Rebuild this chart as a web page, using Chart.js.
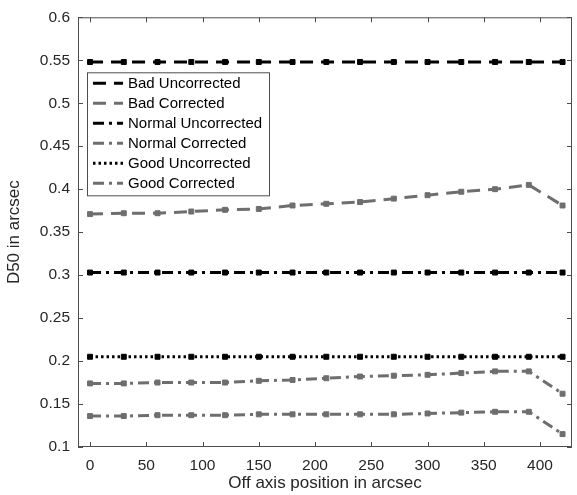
<!DOCTYPE html>
<html>
<head>
<meta charset="utf-8">
<script src="https://cdn.jsdelivr.net/npm/chart.js@4.4.1/dist/chart.umd.min.js"></script>
<style>
  html, body { margin: 0; padding: 0; background: #fff; }
  #wrap { width: 577px; height: 495px; }
</style>
</head>
<body>
<div id="wrap"><canvas id="chart"></canvas></div>
<script>
const positions = [0, 30, 60, 90, 120, 150, 180, 210, 240, 270, 300, 330, 360, 390, 420];
const xTicks = [0, 50, 100, 150, 200, 250, 300, 350, 400];
const yTicks = [0.1, 0.15, 0.2, 0.25, 0.3, 0.35, 0.4, 0.45, 0.5, 0.55, 0.6];

const badUncorrected = [0.548, 0.548, 0.548, 0.548, 0.548, 0.548, 0.548, 0.548, 0.548, 0.548, 0.548, 0.548, 0.548, 0.548, 0.548];
const badCorrected = [0.371, 0.372, 0.372, 0.374, 0.376, 0.377, 0.381, 0.383, 0.385, 0.389, 0.393, 0.397, 0.400, 0.405, 0.381];
const normalUncorrected = [0.303, 0.303, 0.303, 0.303, 0.303, 0.303, 0.303, 0.303, 0.303, 0.303, 0.303, 0.303, 0.303, 0.303, 0.303];
const normalCorrected = [0.174, 0.174, 0.175, 0.175, 0.175, 0.177, 0.178, 0.180, 0.182, 0.183, 0.184, 0.186, 0.188, 0.188, 0.162];
const goodUncorrected = [0.205, 0.205, 0.205, 0.205, 0.205, 0.205, 0.205, 0.205, 0.205, 0.205, 0.205, 0.205, 0.205, 0.205, 0.205];
const goodCorrected = [0.136, 0.136, 0.137, 0.137, 0.137, 0.138, 0.138, 0.138, 0.138, 0.138, 0.139, 0.140, 0.141, 0.141, 0.115];

const BLACK = '#000000';
const GREY = '#6e6e6e';
const DASH = [13, 8];
const DASHDOT = [11, 5, 3, 5];
const DOT = [2.5, 3];
const FONT = '"Liberation Sans", Arial, sans-serif';

const toPoints = (ys) => ys.map((y, i) => ({ x: positions[i], y }));

function series(label, ys, color, dash) {
  return {
    label,
    data: toPoints(ys),
    borderColor: color,
    backgroundColor: color,
    borderWidth: 3,
    borderDash: dash,
    pointStyle: 'rect',
    pointRadius: 3.5,
    pointBorderWidth: 1,
    pointHoverRadius: 3.5,
    tension: 0,
    fill: false
  };
}

// inward ticks on all four sides plus the axes box
const frameTicks = {
  id: 'frameTicks',
  afterDatasetsDraw(chart) {
    const { ctx, chartArea: a, scales } = chart;
    ctx.save();
    ctx.strokeStyle = '#4d4d4d';
    ctx.lineWidth = 1;
    ctx.setLineDash([]);
    ctx.strokeRect(a.left + 0.5, a.top + 0.5, a.right - a.left - 1, a.bottom - a.top - 1);
    ctx.beginPath();
    scales.x.ticks.forEach((t) => {
      const px = Math.round(scales.x.getPixelForValue(t.value)) + 0.5;
      ctx.moveTo(px, a.bottom); ctx.lineTo(px, a.bottom - 5);
      ctx.moveTo(px, a.top); ctx.lineTo(px, a.top + 5);
    });
    scales.y.ticks.forEach((t) => {
      const py = Math.round(scales.y.getPixelForValue(t.value)) + 0.5;
      ctx.moveTo(a.left, py); ctx.lineTo(a.left + 5, py);
      ctx.moveTo(a.right, py); ctx.lineTo(a.right - 5, py);
    });
    ctx.stroke();
    ctx.restore();
  }
};

// boxed legend in the upper left of the plot
const boxLegend = {
  id: 'boxLegend',
  afterDraw(chart) {
    const { ctx, chartArea: a } = chart;
    const left = a.left + 9, top = a.top + 55, w = 182, h = 123, row = 20;
    ctx.save();
    ctx.fillStyle = '#fff';
    ctx.fillRect(left, top, w, h);
    ctx.strokeStyle = '#4d4d4d';
    ctx.lineWidth = 1;
    ctx.setLineDash([]);
    ctx.strokeRect(left + 0.5, top + 0.5, w, h);
    ctx.font = '15px ' + FONT;
    ctx.textBaseline = 'middle';
    chart.data.datasets.forEach((ds, i) => {
      const y = top + 11 + i * row;
      ctx.strokeStyle = ds.borderColor;
      ctx.lineWidth = 3;
      ctx.setLineDash(ds.borderDash);
      ctx.beginPath();
      ctx.moveTo(left + 6, y);
      ctx.lineTo(left + 36, y);
      ctx.stroke();
      ctx.fillStyle = '#000';
      ctx.fillText(ds.label, left + 41, y + 1);
    });
    ctx.restore();
  }
};

new Chart(document.getElementById('chart'), {
  type: 'line',
  data: {
    datasets: [
      series('Bad Uncorrected', badUncorrected, BLACK, DASH),
      series('Bad Corrected', badCorrected, GREY, DASH),
      series('Normal Uncorrected', normalUncorrected, BLACK, DASHDOT),
      series('Normal Corrected', normalCorrected, GREY, DASHDOT),
      series('Good Uncorrected', goodUncorrected, BLACK, DOT),
      series('Good Corrected', goodCorrected, GREY, DASHDOT)
    ]
  },
  options: {
    responsive: true,
    maintainAspectRatio: false,
    animation: false,
    layout: { padding: { top: 13, right: 5, bottom: 0, left: 0 } },
    plugins: { legend: { display: false }, tooltip: { enabled: false } },
    scales: {
      x: {
        type: 'linear',
        min: -10.7,
        max: 428.4,
        afterBuildTicks: (s) => { s.ticks = xTicks.map((v) => ({ value: v })); },
        afterFit: (s) => { s.height = 48; },
        grid: { display: false, drawTicks: false },
        border: { display: false },
        ticks: { color: '#262626', font: { family: FONT, size: 15.5 }, padding: 9 },
        title: { display: true, text: 'Off axis position in arcsec', color: '#262626', font: { family: FONT, size: 17 }, padding: { top: 0, bottom: 1 } }
      },
      y: {
        min: 0.1,
        max: 0.6,
        afterBuildTicks: (s) => { s.ticks = yTicks.map((v) => ({ value: v })); },
        afterFit: (s) => { s.width = 78; },
        grid: { display: false, drawTicks: false },
        border: { display: false },
        ticks: { color: '#262626', font: { family: FONT, size: 15.5 }, padding: 8, callback: (v) => String(+v.toFixed(2)) },
        title: { display: true, text: 'D50 in arcsec', color: '#262626', font: { family: FONT, size: 17 }, padding: { top: 4, bottom: 0 } }
      }
    }
  },
  plugins: [frameTicks, boxLegend]
});
</script>
</body>
</html>
